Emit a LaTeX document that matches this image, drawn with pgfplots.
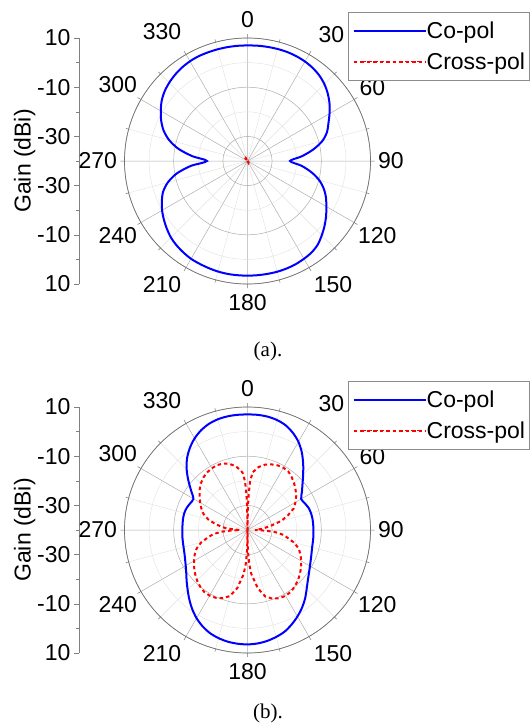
\documentclass[border=0pt]{standalone}
\usepackage{fontspec}
\setmainfont{Liberation Sans}
\newfontfamily\timesfont{Liberation Serif}
\usepackage{pgfplots}
\usepackage{pgfplotstable}
\usepgfplotslibrary{polar}
\pgfplotsset{compat=1.18}
\newcommand\lab{\fontsize{23}{27}\selectfont}

% theta: degrees clockwise from 0 (top); g: gain in dBi
\pgfplotstableread{
t g
0 7.0
5 7.05
10 7.1
15 7.15
20 7.15
25 7.0
30 6.7
35 6.2
40 5.4
45 4.2
50 2.6
55 0.7
60 -1.5
65 -3.7
70 -5.6
75 -8.5
80 -12.8
85 -17.8
90 -22.7
95 -18
100 -13.6
105 -9.8
110 -7.0
115 -4.8
120 -3.0
125 -1.0
130 0.9
135 2.7
140 4.4
145 5.4
150 5.9
155 6.3
160 6.5
165 6.6
170 6.6
175 6.6
180 6.6
185 6.6
190 6.6
195 6.5
200 6.3
205 6.1
210 5.9
215 5.4
220 4.8
225 4.0
230 2.8
235 1.5
240 0.1
245 -1.6
250 -3.5
255 -6.5
260 -10.8
265 -16.8
270 -23.5
275 -17.5
280 -11.5
285 -7.0
290 -3.7
295 -1.3
300 0.7
305 2.6
310 4.0
315 5.0
320 5.8
325 6.4
330 6.8
335 7.0
340 7.0
345 7.0
350 7.0
355 7.0
360 7.0
}\copolA

\pgfplotstableread{
t g
0 -40
130 -40
140 -39.3
150 -39.2
160 -40
310 -40
320 -38.7
330 -38.6
340 -40
360 -40
}\xpolA

\pgfplotstableread{
t g
0 7.0
5 7.0
10 6.8
15 6.3
20 5.3
25 3.6
30 1.4
35 -1.5
40 -4.8
45 -8.0
50 -10.8
55 -13.0
60 -14.8
65 -14.3
70 -13.6
75 -13.3
80 -13.2
85 -13.2
90 -13.2
95 -13.1
100 -13.0
105 -12.8
110 -12.3
115 -11.6
120 -10.7
125 -9.5
130 -8.0
135 -6.0
140 -3.6
145 -1.4
150 0.6
155 2.4
160 4.0
165 5.0
170 5.8
175 6.3
180 6.5
185 6.4
190 6.1
195 5.5
200 4.6
205 3.2
210 1.4
215 -0.8
220 -3.2
225 -5.6
230 -7.7
235 -9.6
240 -11.0
245 -12.0
250 -12.7
255 -13.1
260 -13.3
265 -13.4
270 -13.5
275 -13.5
280 -13.4
285 -13.4
290 -13.7
295 -14.3
300 -14.6
305 -12.0
310 -8.6
315 -5.0
320 -1.8
325 0.8
330 3.0
335 4.7
340 5.9
345 6.6
350 6.9
355 7.0
360 7.0
}\copolB

\pgfplotstableread{
t g
0 -40
1 -31
2 -25
3 -20.5
5 -16.5
10 -14.0
15 -12.5
20 -11.6
25 -11.0
30 -10.8
35 -11.0
40 -12.0
45 -13.2
50 -14.5
55 -15.8
60 -17.5
65 -19.3
70 -22.5
75 -25.8
80 -30.5
85 -34.0
88 -36
90 -37
92 -33
94 -29
97 -26
100 -24
105 -20.5
110 -17.8
115 -16.2
120 -14.8
125 -13.4
130 -12.2
135 -11.0
140 -10.1
145 -9.3
150 -9.1
155 -9.4
160 -10.3
165 -12.0
170 -16.0
175 -22
177 -26
179 -32
180 -40
181 -32
183 -26
185 -22
190 -16
195 -12.2
200 -10.5
205 -9.6
210 -9.2
215 -9.3
220 -10.0
225 -11.0
230 -12.2
235 -13.5
240 -14.9
245 -16.3
250 -18.0
255 -20.5
260 -24
263 -26
266 -29
268 -33
270 -37
272 -35
275 -31
280 -27
285 -23.5
290 -21
295 -19.3
300 -17.8
305 -16.2
310 -14.6
315 -13.2
320 -12.1
325 -11.4
330 -11.0
335 -10.9
340 -11.2
345 -12.2
350 -13.8
355 -16.5
357 -20
358 -24
359 -30
360 -40
}\xpolB

\pgfplotsset{
  mypolar/.style={
    scale only axis, width=246pt, height=246pt,
    xmin=0, xmax=360, ymin=0, ymax=50,
    xtick={0,30,...,330},
    xticklabels={90,60,30,0,330,300,270,240,210,180,150,120},
    minor xtick={15,45,...,345},
    ytick={10,30,50}, minor ytick={20,40},
    yticklabels={},
    grid=both,
    major grid style={draw=black!32, line width=0.5pt},
    minor grid style={draw=black!12, line width=0.4pt},
    axis line style={draw=black!55, line width=0.7pt},
    y axis line style={draw=none},
    xtick style={draw=black!55, line width=0.5pt},
    ytick style={draw=none},
    tick align=inside, major tick length=4pt, minor tick length=3pt,
    tick label style={font=\lab},
    xticklabel style={inner xsep=13pt, inner ysep=10pt,
      xshift={cos(\tick)*(-3.2-26.4*cos(2*\tick)+24*cos(2*\tick)*cos(2*\tick))*1pt},
      yshift={-sin(\tick)*sin(2*\tick)*sin(2*\tick)*(12-4.6*sin(\tick))*1pt}},
    legend cell align=left,
    legend style={at={(0.91,1.105)}, anchor=north west, draw=black!45,
      line width=0.6pt, fill=white, font=\lab, inner xsep=4pt, inner ysep=5pt,
      row sep=5pt, nodes={inner xsep=0pt, inner ysep=4pt}},
  },
  sidegain/.style={
    scale only axis, width=1pt, height=246pt,
    axis x line=none, axis y line=left,
    ymin=-50, ymax=50, xmin=0, xmax=1,
    ytick={-50,-30,-10,10,30,50},
    yticklabels={10,-10,-30,-30,-10,10},
    minor ytick={-40,-20,0,20,40},
    tick align=outside,
    major tick length=5pt, minor tick length=3pt,
    axis line style={draw=black!50, line width=0.6pt, -},
    ytick style={draw=black!50, line width=0.6pt},
    tick label style={font=\lab},
    ylabel={Gain (dBi)}, ylabel style={font=\lab}, ylabel shift=-5pt,
  },
  copol/.style={blue, line width=2pt, smooth,
    legend image code/.code={\path (0pt,0pt) -- (72pt,0pt);
      \draw[blue, line width=1.4pt] (9pt,0pt) -- (65pt,0pt);}},
  xpol/.style={red, line width=2pt, dash pattern=on 3.5pt off 3pt,
    legend image code/.code={\path (0pt,0pt) -- (72pt,0pt);
      \draw[red, line width=1.4pt, dash pattern=on 3pt off 3pt] (9pt,0pt) -- (65pt,0pt);}},
}

\begin{document}
\begin{tikzpicture}
\path[use as bounding box] (0pt,0pt) rectangle (531pt,-726pt);

% ---------- (a) ----------
\begin{axis}[sidegain, at={(79pt,-161pt)}, anchor=west]
\addplot[draw=none] coordinates {(0,0)};
\end{axis}
\begin{polaraxis}[mypolar, at={(247.5pt,-161pt)}, anchor=origin]
\addplot[copol] table[x expr={mod(450-\thisrow{t},360)}, y expr={\thisrow{g}+40}] {\copolA};
\addlegendentry{Co-pol}
\addplot[xpol] table[x expr={mod(450-\thisrow{t},360)}, y expr={\thisrow{g}+40}] {\xpolA};
\addlegendentry{Cross-pol}
\end{polaraxis}
\node[font=\timesfont\fontsize{21}{25}\selectfont] at (268pt,-351pt) {(a).};

% ---------- (b) ----------
\begin{axis}[sidegain, at={(79pt,-530pt)}, anchor=west]
\addplot[draw=none] coordinates {(0,0)};
\end{axis}
\begin{polaraxis}[mypolar, at={(247.5pt,-530pt)}, anchor=origin]
\addplot[copol] table[x expr={mod(450-\thisrow{t},360)}, y expr={\thisrow{g}+40}] {\copolB};
\addlegendentry{Co-pol}
\addplot[xpol] table[x expr={mod(450-\thisrow{t},360)}, y expr={\thisrow{g}+40}] {\xpolB};
\addlegendentry{Cross-pol}
\end{polaraxis}
\node[font=\timesfont\fontsize{21}{25}\selectfont] at (268pt,-713pt) {(b).};
\end{tikzpicture}
\end{document}
